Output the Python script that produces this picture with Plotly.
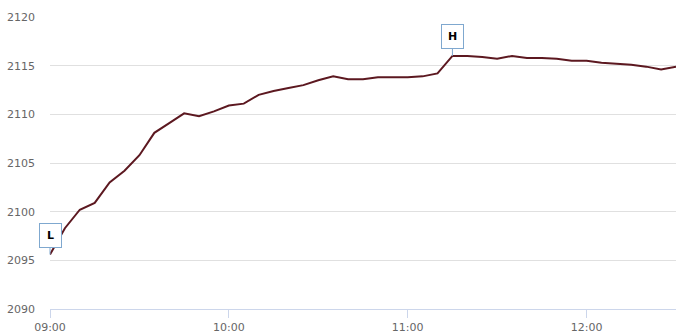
import plotly.graph_objects as go

times = ["09:00", "09:05", "09:10", "09:15", "09:20", "09:25", "09:30", "09:35", "09:40", "09:45",
         "09:50", "09:55", "10:00", "10:05", "10:10", "10:15", "10:20", "10:25", "10:30", "10:35",
         "10:40", "10:45", "10:50", "10:55", "11:00", "11:05", "11:10", "11:15", "11:20", "11:25",
         "11:30", "11:35", "11:40", "11:45", "11:50", "11:55", "12:00", "12:05", "12:10", "12:15",
         "12:20", "12:25", "12:30"]
values = [2095.6, 2098.3, 2100.2, 2100.9, 2103.0, 2104.2, 2105.8, 2108.1, 2109.1, 2110.1,
          2109.8, 2110.3, 2110.9, 2111.1, 2112.0, 2112.4, 2112.7, 2113.0, 2113.5, 2113.9,
          2113.6, 2113.6, 2113.8, 2113.8, 2113.8, 2113.9, 2114.2, 2116.0, 2116.0, 2115.9,
          2115.7, 2116.0, 2115.8, 2115.8, 2115.7, 2115.5, 2115.5, 2115.3, 2115.2, 2115.1,
          2114.9, 2114.6, 2114.9]
flag_times = ["09:00", "11:15"]
flag_labels = ["L", "H"]
y_ticks = [2090, 2095, 2100, 2105, 2110, 2115, 2120]

day = "2024-01-02 "
x = [day + t for t in times]

fig = go.Figure()
fig.add_trace(go.Scatter(x=x, y=values, mode="lines",
                         line=dict(color="#5c1820", width=2), hoverinfo="skip"))

for ft, lab in zip(flag_times, flag_labels):
    yv = values[times.index(ft)]
    fig.add_annotation(x=day + ft, y=yv, text="<b>%s</b>" % lab, showarrow=True,
                       arrowhead=0, arrowwidth=1, arrowcolor="#7fa8cf",
                       ax=0, ay=-19, width=17, height=19, borderpad=2,
                       bordercolor="#7fa8cf", borderwidth=1, bgcolor="#ffffff",
                       font=dict(family="DejaVu Sans", size=11, color="#000000"))

fig.update_layout(
    width=690, height=336,
    margin=dict(l=50, r=14, t=17, b=27),
    paper_bgcolor="#ffffff", plot_bgcolor="#ffffff",
    showlegend=False,
    font=dict(family="DejaVu Sans", size=11, color="#666666"),
)
fig.update_xaxes(type="date", range=[day + "09:00", day + "12:30"],
                 tickformat="%H:%M", dtick=3600000, tick0=day + "09:00",
                 showgrid=False, showline=True, linecolor="#ccd6eb", linewidth=1,
                 ticks="outside", ticklen=8, tickcolor="#ccd6eb", zeroline=False,
                 automargin=False,
                 tickfont=dict(color="#666666", size=11))
fig.update_yaxes(range=[2090, 2120], tickvals=y_ticks, showgrid=True,
                 gridcolor="#e0e0e0", gridwidth=1, zeroline=False, showline=False,
                 ticks="", ticklabelstandoff=14, automargin=False,
                 tickfont=dict(color="#666666", size=11))

fig.write_html("out.html")
